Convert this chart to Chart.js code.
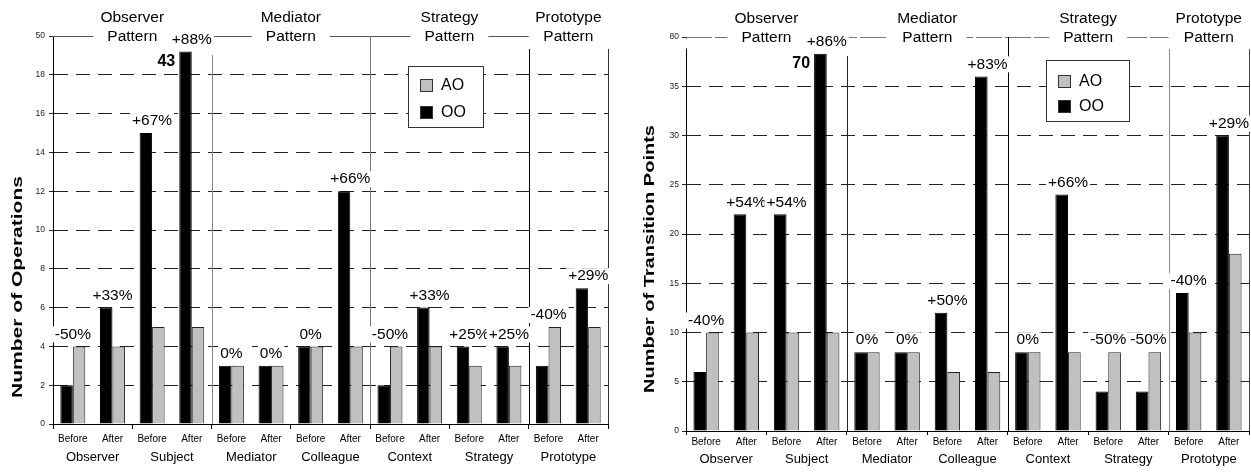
<!DOCTYPE html>
<html>
<head>
<meta charset="utf-8">
<script src="https://cdn.jsdelivr.net/npm/chart.js@4.4.0/dist/chart.umd.min.js"></script>
<style>
  html, body { margin: 0; padding: 0; background: #fff; }
  #wrap { position: relative; width: 1251px; height: 472px; }
  canvas { position: absolute; top: 0; }
  #opsChart { left: 0; }
  #tpChart { left: 630px; }
</style>
</head>
<body>
<div id="wrap">
  <canvas id="opsChart" width="620" height="472"></canvas>
  <canvas id="tpChart" width="621" height="472"></canvas>
</div>
<script>
'use strict';

const FONT = '"Liberation Sans", Arial, Helvetica, sans-serif';

// Categories (shared by both charts)
const phases = ['Before', 'After', 'Before', 'After', 'Before', 'After', 'Before', 'After',
                'Before', 'After', 'Before', 'After', 'Before', 'After'];
const roles = ['Observer', 'Subject', 'Mediator', 'Colleague', 'Context', 'Strategy', 'Prototype'];
const patterns = [['Observer', 'Pattern'], ['Mediator', 'Pattern'], ['Strategy', 'Pattern'], ['Prototype', 'Pattern']];
const patternSize = [4, 4, 4, 2]; // Before/After columns under each pattern

// Number of operations
const opsOO = [2, 6, 15, 43, 3, 3, 4, 12, 2, 6, 4, 4, 3, 7];
const opsAO = [4, 4, 5, 5, 3, 3, 4, 4, 4, 4, 3, 3, 5, 5];
const opsChange = ['-50%', '+33%', '+67%', '+88%', '0%', '0%', '0%', '+66%', '-50%', '+33%', '+25%', '+25%', '-40%', '+29%'];
const opsTickLabels = ['0', '2', '4', '6', '8', '10', '12', '14', '16', '18', '50'];

// Number of transition points
const tpOO = [6, 22, 22, 70, 8, 8, 12, 36, 8, 24, 4, 4, 14, 30];
const tpAO = [10, 10, 10, 10, 8, 8, 6, 6, 8, 8, 8, 8, 10, 18];
const tpChange = ['-40%', '+54%', '+54%', '+86%', '0%', '0%', '+50%', '+83%', '0%', '+66%', '-50%', '-50%', '-40%', '+29%'];
const tpTickLabels = ['0', '5', '10', '15', '20', '25', '30', '35', '80'];

Chart.defaults.font.family = FONT;
Chart.defaults.color = '#000';

// headings, separators, change labels, legend and y title
function makeDecor(s) {
    return {
        id: 'decor',
        afterDatasetsDraw(chart) {
            const ctx = chart.ctx;
            const xs = chart.scales.x;
            const area = chart.chartArea;
            const colW = xs.getPixelForValue(1) - xs.getPixelForValue(0);
            const edge = i => xs.getPixelForValue(0) - colW / 2 + i * colW;
            const top = Math.round(area.top) + 0.5;
            const bounds = [0];
            patternSize.forEach(n => bounds.push(bounds[bounds.length - 1] + n));

            ctx.save();
            ctx.lineWidth = 1;

            // gap at the top of the y axis line
            if (s.axisGap) {
                ctx.fillStyle = '#fff';
                ctx.fillRect(area.left - 1, top + 1, 3, s.axisGap);
            }

            // top line broken by the pattern headings
            ctx.strokeStyle = s.topLine.color;
            ctx.setLineDash(s.topLine.dash);
            ctx.beginPath();
            ctx.moveTo(area.left, top);
            ctx.lineTo(edge(bounds[bounds.length - 2]), top);
            ctx.stroke();
            ctx.setLineDash([]);

            ctx.font = '15.5px ' + FONT;
            ctx.textAlign = 'center';
            ctx.textBaseline = 'middle';
            patterns.forEach((p, k) => {
                const cx = (edge(bounds[k]) + edge(bounds[k + 1])) / 2;
                const w = ctx.measureText(p[1]).width;
                ctx.fillStyle = '#fff';
                ctx.fillRect(cx - w / 2 - 14, top - 5, w + 28, 10);
                ctx.fillStyle = '#000';
                ctx.fillText(p[0], cx, top - 18.5);
                ctx.fillText(p[1], cx, top);
            });

            // vertical separators between patterns
            s.separators.forEach((sep, k) => {
                const xx = Math.round(edge(bounds[k + 1])) + 0.5;
                ctx.strokeStyle = sep.color;
                ctx.beginPath();
                ctx.moveTo(xx, area.top + sep.gap);
                ctx.lineTo(xx, area.bottom);
                ctx.stroke();
            });

            // change labels above each pair
            const metaOO = chart.getDatasetMeta(0);
            const metaAO = chart.getDatasetMeta(1);
            ctx.font = '15.5px ' + FONT;
            s.change.forEach((txt, i) => {
                const cx = xs.getPixelForValue(i);
                const barTop = Math.min(metaOO.data[i].y, metaAO.data[i].y);
                const ly = barTop - 12;
                const w = ctx.measureText(txt).width;
                ctx.fillStyle = '#fff';
                ctx.fillRect(cx - w / 2 - 2, ly - 8, w + 4, 16);
                ctx.fillStyle = '#000';
                ctx.fillText(txt, cx, ly);
            });

            // real value of the broken bar
            ctx.font = 'bold 16px ' + FONT;
            ctx.textAlign = 'right';
            s.oo.forEach((v, i) => {
                if (v <= s.axisMax) return;
                const bar = metaOO.data[i];
                ctx.fillText(String(v), bar.x - bar.width / 2 - 4, bar.y + 10);
            });

            // legend box
            const L = s.legend;
            ctx.fillStyle = '#fff';
            ctx.fillRect(L.x, L.y, L.w, L.h);
            ctx.strokeStyle = '#333';
            ctx.strokeRect(L.x + 0.5, L.y + 0.5, L.w, L.h);
            ctx.font = '16px ' + FONT;
            ctx.textAlign = 'left';
            [1, 0].forEach((d, row) => {
                const ds = chart.data.datasets[d];
                const sy = L.y + L.rowTop[row];
                ctx.fillStyle = ds.backgroundColor;
                ctx.fillRect(L.x + 12, sy, 13, 13);
                ctx.strokeStyle = '#333';
                ctx.strokeRect(L.x + 12.5, sy + 0.5, 12, 12);
                ctx.fillStyle = '#000';
                ctx.fillText(ds.label, L.x + 33, sy + 7);
            });

            // stretched y axis title
            const T = s.yTitle;
            ctx.font = 'bold 14px ' + FONT;
            const tw = ctx.measureText(T.text).width;
            ctx.translate(T.x, T.y);
            ctx.rotate(-Math.PI / 2);
            ctx.scale(T.length / tw, 1);
            ctx.textAlign = 'center';
            ctx.fillText(T.text, 0, 0);
            ctx.restore();
        }
    };
}

function buildChart(id, s) {
    const shownOO = s.oo.map(v => v > s.axisMax ? s.breakAt : v);
    return new Chart(document.getElementById(id), {
        type: 'bar',
        data: {
            labels: phases,
            datasets: [
                { label: 'OO', data: shownOO, backgroundColor: '#000', borderColor: '#000', borderWidth: 1 },
                { label: 'AO', data: s.ao, backgroundColor: '#c0c0c0', borderColor: '#222', borderWidth: 1 }
            ]
        },
        options: {
            responsive: false,
            animation: false,
            layout: { padding: { top: s.top, right: s.right, left: 0, bottom: 0 } },
            datasets: { bar: { categoryPercentage: 0.63, barPercentage: 1 } },
            plugins: { legend: { display: false }, tooltip: { enabled: false } },
            scales: {
                x: {
                    type: 'category',
                    offset: true,
                    grid: {
                        offset: true,
                        drawOnChartArea: false,
                        tickLength: s.xTick,
                        tickColor: c => (c.index === undefined || c.index % 2 === 0) ? '#000' : 'rgba(0,0,0,0)'
                    },
                    border: { color: '#000' },
                    ticks: { font: { size: 10 }, padding: s.xPad, maxRotation: 0, autoSkip: false },
                    afterFit: sc => { sc.height = s.xHeight; }
                },
                x2: {
                    type: 'category',
                    labels: roles,
                    position: 'bottom',
                    offset: true,
                    grid: { display: false, drawTicks: false },
                    border: { display: false },
                    ticks: { font: { size: 13 }, padding: s.x2Pad, maxRotation: 0, autoSkip: false },
                    afterFit: sc => { sc.height = s.x2Height; }
                },
                y: {
                    min: 0,
                    max: s.axisMax,
                    grid: {
                        color: c => (c.tick.value > 0 && c.tick.value < s.axisMax) ? '#222' : 'rgba(0,0,0,0)',
                        tickColor: '#222',
                        tickLength: 4
                    },
                    border: { color: '#000', dash: [14, 8] },
                    ticks: {
                        stepSize: s.step,
                        font: { size: 8.5 },
                        color: '#222',
                        padding: s.yPad,
                        callback: (v, i) => s.tickLabels[i]
                    },
                    afterFit: sc => { sc.width = s.yWidth; }
                }
            }
        },
        plugins: [makeDecor(s)]
    });
}

buildChart('opsChart', {
    oo: opsOO, ao: opsAO, change: opsChange, tickLabels: opsTickLabels,
    axisMax: 20, step: 2, breakAt: 19.2,
    top: 36, right: 12, yWidth: 53, yPad: 4,
    xTick: 5, xPad: 4, xHeight: 21, x2Pad: 5, x2Height: 27,
    axisGap: 0,
    topLine: { color: '#555', dash: [] },
    separators: [{ color: '#888', gap: 19 }, { color: '#777', gap: 0 }, { color: '#000', gap: 13 }, { color: '#333', gap: 13 }],
    legend: { x: 408, y: 66, w: 75, h: 61, rowTop: [13, 40] },
    yTitle: { text: 'Number of Operations', x: 18.5, y: 287, length: 222 }
});

buildChart('tpChart', {
    oo: tpOO, ao: tpAO, change: tpChange, tickLabels: tpTickLabels,
    axisMax: 40, step: 5, breakAt: 38.3,
    top: 37, right: 2, yWidth: 56, yPad: 3,
    xTick: 4, xPad: 1, xHeight: 18, x2Pad: 3, x2Height: 23,
    axisGap: 10,
    topLine: { color: '#777', dash: [26, 3] },
    separators: [{ color: '#222', gap: 19 }, { color: '#000', gap: 0 }, { color: '#888', gap: 12 }, { color: '#444', gap: 12 }],
    legend: { x: 416, y: 60, w: 83, h: 61, rowTop: [15, 40] },
    yTitle: { text: 'Number of Transition Points', x: 20, y: 259, length: 268 }
});
</script>
</body>
</html>
